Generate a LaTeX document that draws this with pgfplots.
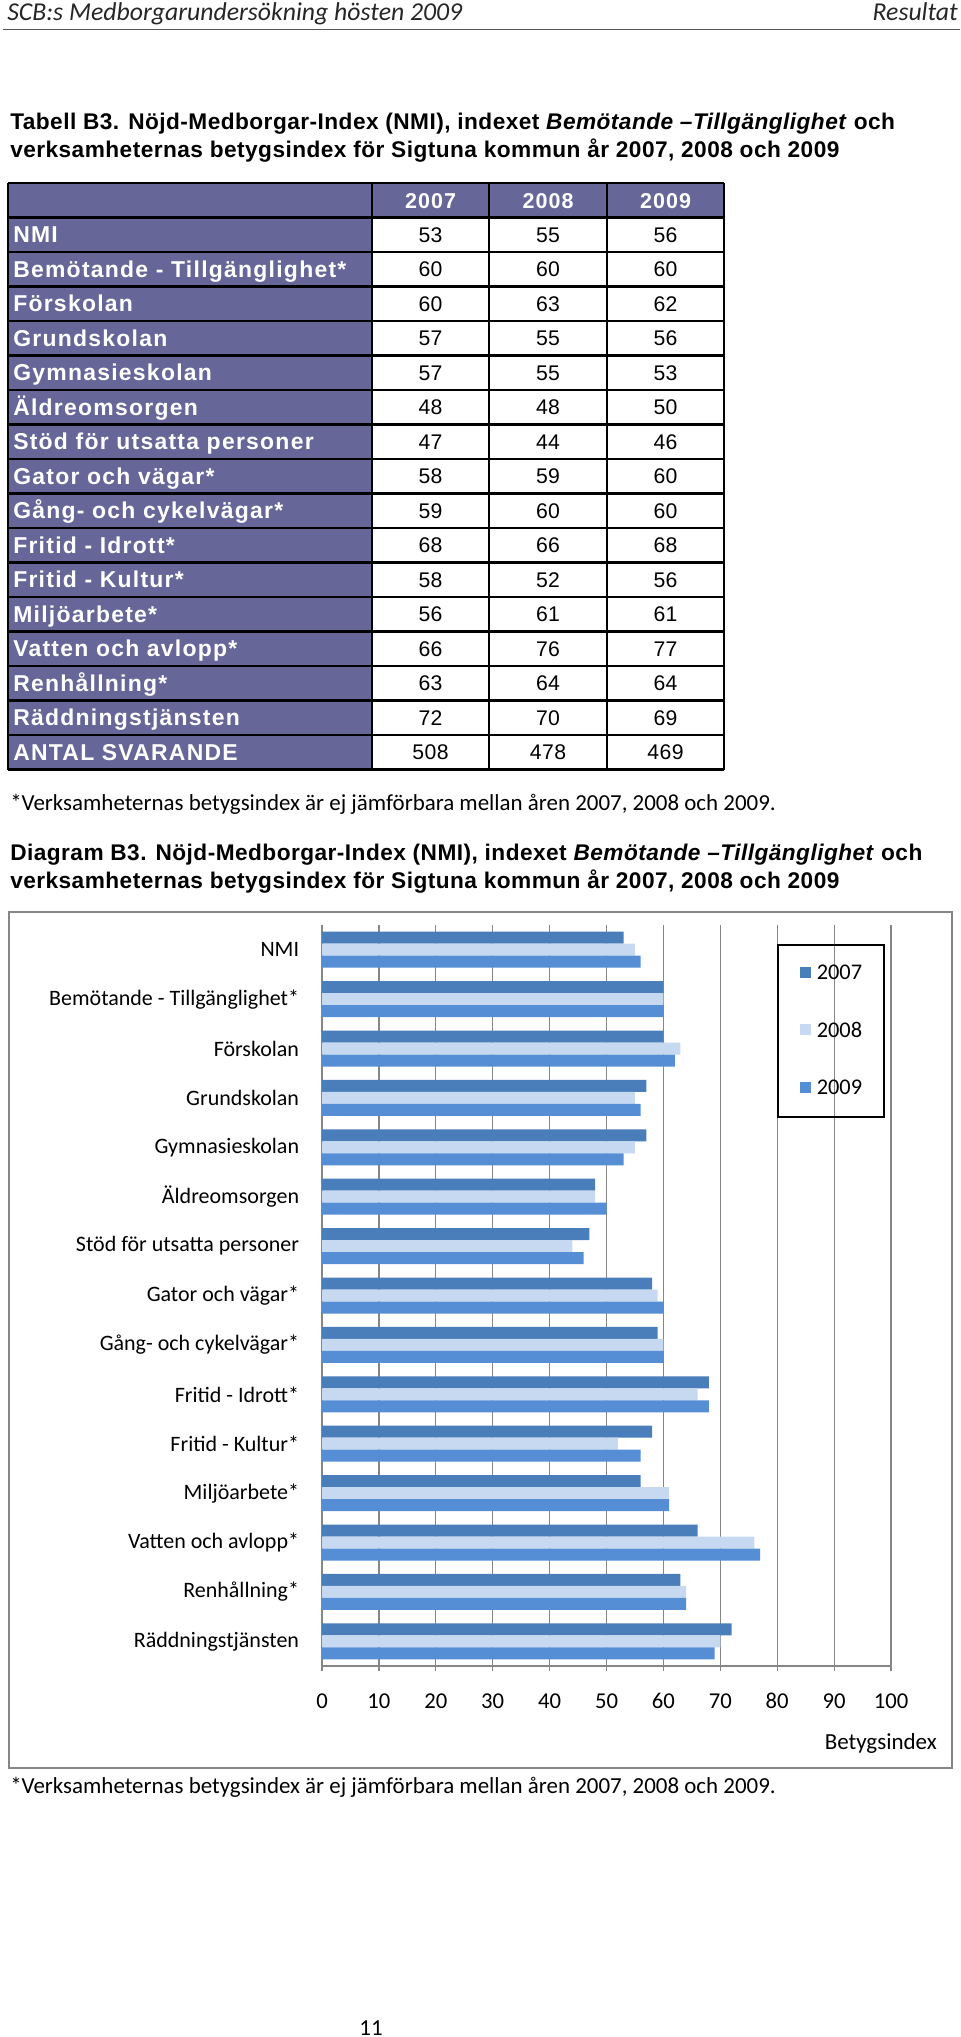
\documentclass[border=0pt]{standalone}
\usepackage{pgfplots}
\pgfplotsset{compat=1.18}
\usepackage{fontspec}
\setmainfont{Carlito}
\newfontfamily\arialt{Liberation Sans}[LetterSpace=2]
\newfontfamily\arialsp{Liberation Sans}[LetterSpace=5.5]
\newfontfamily\arialhd{Liberation Sans}[LetterSpace=5]
\newfontfamily\arialnum{Liberation Sans}[LetterSpace=2]
\definecolor{tabpurple}{RGB}{102,102,153}
\definecolor{gridgray}{RGB}{134,134,134}
\definecolor{rulegray}{RGB}{85,85,85}
\definecolor{cA}{RGB}{74,126,187}
\definecolor{cB}{RGB}{198,217,241}
\definecolor{cC}{RGB}{85,142,213}
\pgfplotstableread{
pos v2007 v2008 v2009
14 53 55 56
13 60 60 60
12 60 63 62
11 57 55 56
10 57 55 53
9 48 48 50
8 47 44 46
7 58 59 60
6 59 60 60
5 68 66 68
4 58 52 56
3 56 61 61
2 66 76 77
1 63 64 64
0 72 70 69
}\datatab
\newcommand\titlefont{\arialt\bfseries\fontsize{17}{19}\selectfont}
\newcommand\tablab{\arialsp\bfseries\fontsize{17.2}{19}\selectfont}
\newcommand\tabhd{\arialhd\bfseries\fontsize{16.1}{18}\selectfont}
\newcommand\tabnum{\arialnum\fontsize{15.9}{18}\selectfont}
\newcommand\notefont{\fontsize{17.2}{20}\selectfont}
\begin{document}
\begin{tikzpicture}
\begin{scope}[x=0.75pt,y=-0.75pt]
\useasboundingbox (0,0) rectangle (960,2037);
% page header
\node[anchor=base west,inner sep=0pt,text=black!85,font=\itshape\fontsize{19.3}{22}\selectfont] at (7,21) {SCB:s Medborgarundersökning hösten 2009};
\node[anchor=base east,inner sep=0pt,text=black!85,font=\itshape\fontsize{19.3}{22}\selectfont] at (958,21) {Resultat};
\draw[rulegray,line width=1.2pt] (3,29.5) -- (960,29.5);
% table title
\node[anchor=base west,inner sep=0pt,font=\titlefont] at (10,130) {Tabell B3. Nöjd-Medborgar-Index (NMI), indexet \textit{Bemötande –Tillgänglighet} och};
\node[anchor=base west,inner sep=0pt,font=\titlefont] at (10,158) {verksamheternas betygsindex för Sigtuna kommun år 2007, 2008 och 2009};
% table
\fill[tabpurple] (8,183) rectangle (372,770);
\fill[tabpurple] (372,183) rectangle (724,217.5);
\foreach \k in {0,...,17} {\draw[black,line width=1.6pt] (8,{183+34.5*\k}) -- (724,{183+34.5*\k});}
\foreach \xx in {8,372,489,607,724} {\draw[black,line width=1.6pt] (\xx,183) -- (\xx,770);}
\node[anchor=base,inner sep=0pt,text=white,font=\tabhd] at (430.5,208) {2007};
\node[anchor=base,inner sep=0pt,text=white,font=\tabhd] at (548,208) {2008};
\node[anchor=base,inner sep=0pt,text=white,font=\tabhd] at (665.5,208) {2009};
\foreach \lab/\a/\b/\c [count=\i] in {NMI/53/55/56,Bemötande - Tillgänglighet*/60/60/60,Förskolan/60/63/62,Grundskolan/57/55/56,Gymnasieskolan/57/55/53,Äldreomsorgen/48/48/50,Stöd för utsatta personer/47/44/46,Gator och vägar*/58/59/60,Gång- och cykelvägar*/59/60/60,Fritid - Idrott*/68/66/68,Fritid - Kultur*/58/52/56,Miljöarbete*/56/61/61,Vatten och avlopp*/66/76/77,Renhållning*/63/64/64,Räddningstjänsten/72/70/69,ANTAL SVARANDE/508/478/469} {
  \node[anchor=base west,inner sep=0pt,text=white,font=\tablab] at (13,{183+34.5*(\i+0.5)+8}) {\lab};
  \node[anchor=base,inner sep=0pt,font=\tabnum] at (430.5,{183+34.5*(\i+0.5)+7.5}) {\a};
  \node[anchor=base,inner sep=0pt,font=\tabnum] at (548,{183+34.5*(\i+0.5)+7.5}) {\b};
  \node[anchor=base,inner sep=0pt,font=\tabnum] at (665.5,{183+34.5*(\i+0.5)+7.5}) {\c};
}
\node[anchor=base west,inner sep=0pt,font=\notefont] at (10,810) {*Verksamheternas betygsindex är ej jämförbara mellan åren 2007, 2008 och 2009.};
% diagram title
\node[anchor=base west,inner sep=0pt,font=\titlefont] at (10,860) {Diagram B3. Nöjd-Medborgar-Index (NMI), indexet \textit{Bemötande –Tillgänglighet} och};
\node[anchor=base west,inner sep=0pt,font=\titlefont] at (10,888) {verksamheternas betygsindex för Sigtuna kommun år 2007, 2008 och 2009};
% chart frame
\draw[gridgray,line width=1.2pt] (9,912) rectangle (952,1768);
\node[anchor=base east,inner sep=0pt,font=\fontsize{17.25}{20}\selectfont] at (937,1749) {Betygsindex};
\node[anchor=base west,inner sep=0pt,font=\notefont] at (10,1793) {*Verksamheternas betygsindex är ej jämförbara mellan åren 2007, 2008 och 2009.};
\node[anchor=base,inner sep=0pt,font=\notefont] at (371,2035) {11};
\end{scope}
\begin{axis}[
  at={(241.5pt,-1249.5pt)}, anchor=south west,
  scale only axis, width=426.75pt, height=555.75pt,
  xbar, bar width=9pt,
  xmin=0, xmax=100, ymin=-0.5, ymax=14.5,
  xtick={0,10,...,100},
  ytick={0,...,14},
  yticklabels={Räddningstjänsten,Renhållning*,Vatten och avlopp*,Miljöarbete*,Fritid - Kultur*,Fritid - Idrott*,Gång- och cykelvägar*,Gator och vägar*,Stöd för utsatta personer,Äldreomsorgen,Gymnasieskolan,Grundskolan,Förskolan,Bemötande - Tillgänglighet*,NMI},
  axis x line*=bottom, axis y line*=left,
  axis line style={draw=gridgray,line width=0.9pt,-},
  xmajorgrids, grid style={draw=gridgray,line width=0.9pt},
  tick align=outside, major tick length=4pt,
  xtick style={draw=gridgray,line width=0.9pt},
  ytick style={draw=none},
  /pgf/number format/assume math mode=true,
  xticklabel style={font=\fontsize{17}{20}\selectfont,anchor=base,inner sep=0pt,yshift=-27.75pt},
  yticklabel style={font=\fontsize{16.5}{20}\selectfont,anchor=east,inner sep=0pt,xshift=-13pt},
  legend image code/.code={\fill[#1] (0pt,-3.4pt) rectangle (8.25pt,4.85pt);},
  legend cell align=left,
  legend style={at={(0.7996,0.9744)},anchor=north west,draw=black,line width=1.2pt,fill=none,
    inner xsep=16.5pt,inner ysep=0pt,column sep=4.5pt,row sep=0pt,
    font=\fontsize{16.8}{20}\selectfont,
    nodes={inner sep=0pt,minimum height=43pt}},
]
\addplot[fill=cA,draw=none,bar shift=9pt] table[x=v2007,y=pos] {\datatab};
\addplot[fill=cB,draw=none,bar shift=0pt] table[x=v2008,y=pos] {\datatab};
\addplot[fill=cC,draw=none,bar shift=-9pt] table[x=v2009,y=pos] {\datatab};
\legend{2007,2008,2009}
\end{axis}
\end{tikzpicture}
\end{document}
